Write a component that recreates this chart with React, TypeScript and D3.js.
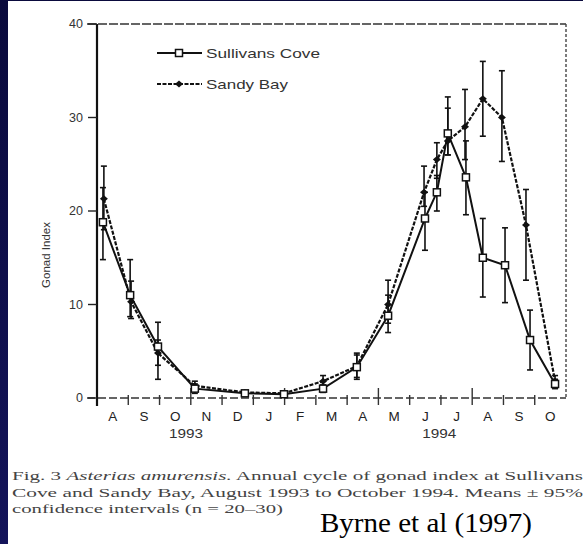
import React from "react";
import * as d3 from "d3";

const monthLabels = ["A", "S", "O", "N", "D", "J", "F", "M", "A", "M", "J", "J", "A", "S", "O"];
const yearLabels = ["1993", "1994"];
const yearPos = [2.85, 10.95];
const yTicks = [0, 10, 20, 30, 40];

// sampling time in months from 1 Aug 1993
const sullivansT = [0.19, 1.06, 1.95, 3.13, 4.73, 5.98, 7.23, 8.31, 9.31, 10.49, 10.87, 11.22, 11.8, 12.34, 13.05, 13.85, 14.65];
const sullivansMean = [18.8, 11.0, 5.5, 1.0, 0.5, 0.4, 1.0, 3.3, 8.8, 19.2, 22.0, 28.3, 23.6, 15.0, 14.2, 6.2, 1.5];
const sullivansLo = [14.8, 8.7, 2.0, 0.5, 0.3, 0.2, 0.6, 2.0, 7.0, 15.8, 20.0, 26.0, 19.6, 10.8, 10.2, 3.0, 1.0];
const sullivansHi = [22.5, 14.8, 8.1, 1.5, 0.7, 0.6, 1.4, 4.8, 11.0, 22.0, 23.8, 32.2, 27.5, 19.2, 18.2, 9.4, 2.0];

const sandyT = [0.22, 1.09, 1.95, 3.13, 4.73, 5.98, 7.23, 8.31, 9.31, 10.46, 10.87, 11.22, 11.77, 12.34, 12.95, 13.72, 14.65];
const sandyMean = [21.3, 10.3, 4.8, 1.3, 0.6, 0.5, 1.8, 3.4, 10.0, 22.0, 25.5, 27.5, 29.0, 32.0, 30.0, 18.5, 1.8];
const sandyLo = [18.0, 8.5, 3.5, 0.8, 0.4, 0.3, 1.2, 2.2, 8.0, 20.5, 23.5, 26.0, 25.5, 28.0, 25.3, 12.6, 1.2];
const sandyHi = [24.8, 12.5, 6.2, 1.8, 0.8, 0.7, 2.4, 4.6, 12.6, 24.8, 27.3, 31.0, 33.0, 36.0, 35.0, 22.3, 2.4];

const W = 583;
const H = 544;
const left = 97;
const right = 566;
const top = 24;
const bottom = 398;

export default function App() {
  const x = d3.scaleLinear().domain([0, 15]).range([left, right]);
  const y = d3.scaleLinear().domain([0, 40]).range([bottom, top]);

  const mkPath = (t: number[], v: number[]) =>
    d3
      .line<number>()
      .x((d, i) => x(t[i]))
      .y((d) => y(d))(v) as string;

  const errorBars = (t: number[], lo: number[], hi: number[], key: string) =>
    t.map((tt, i) => {
      const cx = x(tt);
      const y1 = y(hi[i]);
      const y2 = y(lo[i]);
      if (Math.abs(y2 - y1) < 5) return null;
      return (
        <g key={key + i} stroke="#111" strokeWidth={1.6}>
          <line x1={cx} x2={cx} y1={y1} y2={y2} />
          <line x1={cx - 3} x2={cx + 3} y1={y1} y2={y1} />
          <line x1={cx - 3} x2={cx + 3} y1={y2} y2={y2} />
        </g>
      );
    });

  const sans = "'Liberation Sans', Arial, sans-serif";
  const serif = "'Liberation Serif', 'Times New Roman', serif";

  return (
    <svg
      width={W}
      height={H}
      style={{ position: "absolute", left: 0, top: 0, display: "block" }}
    >
      <defs>
        <linearGradient id="bg" x1="0" y1="0" x2="0" y2="1">
          <stop offset="0" stopColor="#0a0a3c" />
          <stop offset="1" stopColor="#14145a" />
        </linearGradient>
      </defs>
      <rect x={0} y={0} width={W} height={H} fill="url(#bg)" />
      <rect x={8} y={1} width={W - 8} height={H - 1} fill="#ffffff" />

      {/* frame */}
      <line x1={left - 10} x2={right} y1={top} y2={top} stroke="#333" strokeWidth={1.5} strokeDasharray="9,2" />
      <line x1={right} x2={right} y1={top} y2={bottom} stroke="#444" strokeWidth={1.4} strokeDasharray="3,2" />
      <line x1={left - 10} x2={right} y1={bottom} y2={bottom} stroke="#333" strokeWidth={1.5} strokeDasharray="8,3" />
      <line x1={left} x2={left} y1={top} y2={bottom + 8} stroke="#111" strokeWidth={2.2} />

      {/* y ticks */}
      {yTicks.map((t) => (
        <g key={"yt" + t}>
          <line x1={left - 9} x2={left} y1={y(t)} y2={y(t)} stroke="#222" strokeWidth={1.4} />
          <text
            x={left - 14}
            y={y(t)}
            dy="0.35em"
            textAnchor="end"
            fontFamily={sans}
            fontSize={12.5}
            fill="#333"
          >
            {t}
          </text>
        </g>
      ))}

      {/* x ticks at month boundaries */}
      {d3.range(1, 15).map((m) => (
        <line
          key={"xt" + m}
          x1={x(m)}
          x2={x(m)}
          y1={bottom - (m % 3 === 0 ? 10 : 3)}
          y2={bottom + 7}
          stroke="#333"
          strokeWidth={1.4}
        />
      ))}
      {monthLabels.map((lab, i) => (
        <text
          key={"ml" + i}
          x={x(i + 0.5)}
          y={416}
          dy="0.35em"
          textAnchor="middle"
          fontFamily={sans}
          fontSize={13.5}
          fill="#222"
        >
          {lab}
        </text>
      ))}
      {yearLabels.map((lab, i) => (
        <text
          key={"yl" + i}
          x={x(yearPos[i]) - 17}
          y={434}
          dy="0.35em"
          fontFamily={sans}
          fontSize={12}
          fill="#333"
          textLength={34}
          lengthAdjust="spacingAndGlyphs"
        >
          {lab}
        </text>
      ))}

      <text
        transform={`translate(46,${(top + bottom) / 2 + 44}) rotate(-90)`}
        textAnchor="middle"
        dy="0.35em"
        fontFamily={sans}
        fontSize={11.5}
        fill="#333"
      >
        Gonad Index
      </text>

      {/* error bars */}
      {errorBars(sullivansT, sullivansLo, sullivansHi, "se")}
      {errorBars(sandyT, sandyLo, sandyHi, "be")}

      {/* lines */}
      <path d={mkPath(sandyT, sandyMean)} fill="none" stroke="#111" strokeWidth={2.2} strokeDasharray="4,1.5" />
      <path d={mkPath(sullivansT, sullivansMean)} fill="none" stroke="#111" strokeWidth={2} />

      {/* markers */}
      {sandyT.map((t, i) => {
        const cx = x(t);
        const cy = y(sandyMean[i]);
        return (
          <path
            key={"bm" + i}
            d={`M${cx - 4},${cy} L${cx},${cy - 3.5} L${cx + 4},${cy} L${cx},${cy + 3.5} Z`}
            fill="#111"
          />
        );
      })}
      {sullivansT.map((t, i) => (
        <rect
          key={"sm" + i}
          x={x(t) - 3.5}
          y={y(sullivansMean[i]) - 3.5}
          width={7}
          height={7}
          fill="#fff"
          stroke="#111"
          strokeWidth={1.5}
        />
      ))}

      {/* legend */}
      <line x1={157} x2={202} y1={53} y2={53} stroke="#111" strokeWidth={2} />
      <rect x={175.5} y={49.5} width={7} height={7} fill="#fff" stroke="#111" strokeWidth={1.5} />
      <text x={206} y={53} dy="0.35em" fontFamily={sans} fontSize={13} fill="#333" textLength={114} lengthAdjust="spacingAndGlyphs">
        Sullivans Cove
      </text>
      <line x1={157} x2={202} y1={84} y2={84} stroke="#111" strokeWidth={2} strokeDasharray="4,1.5" />
      <path d="M175,84 L179,80.5 L183,84 L179,87.5 Z" fill="#111" />
      <text x={206} y={84} dy="0.35em" fontFamily={sans} fontSize={13} fill="#333" textLength={82} lengthAdjust="spacingAndGlyphs">
        Sandy Bay
      </text>

      {/* caption */}
      <text x={12} y={475} dy="0.35em" fontFamily={serif} fontSize={13} fill="#444" textLength={571} lengthAdjust="spacingAndGlyphs">
        Fig. 3 <tspan fontStyle="italic">Asterias amurensis.</tspan> Annual cycle of gonad index at Sullivans
      </text>
      <text x={12} y={492} dy="0.35em" fontFamily={serif} fontSize={13} fill="#444" textLength={571} lengthAdjust="spacingAndGlyphs">
        Cove and Sandy Bay, August 1993 to October 1994. Means ± 95%
      </text>
      <text x={12} y={508} dy="0.35em" fontFamily={serif} fontSize={13} fill="#444" textLength={271} lengthAdjust="spacingAndGlyphs">
        confidence intervals (n = 20–30)
      </text>
      <text x={320} y={532} fontFamily={serif} fontSize={28} fill="#000" textLength={212} lengthAdjust="spacingAndGlyphs">
        Byrne et al (1997)
      </text>
    </svg>
  );
}
